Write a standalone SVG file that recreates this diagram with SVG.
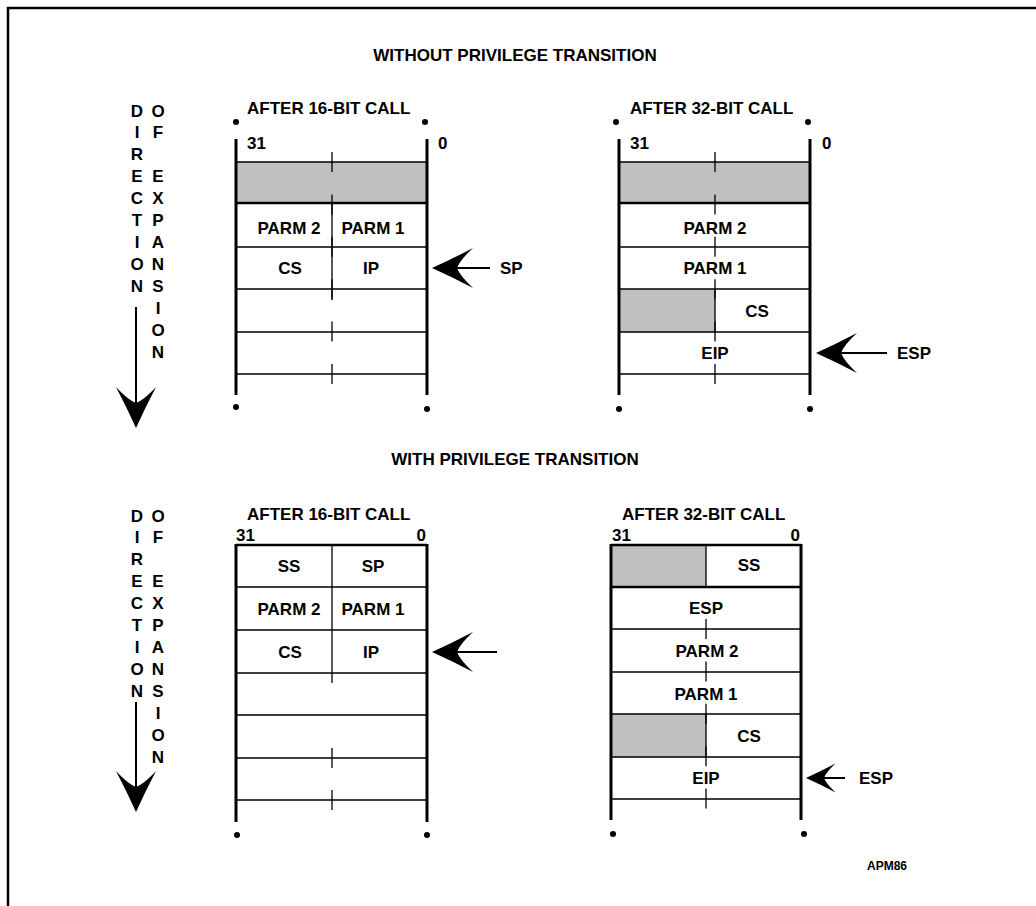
<svg xmlns="http://www.w3.org/2000/svg" xmlns:xlink="http://www.w3.org/1999/xlink" width="1036" height="906" viewBox="0 0 1036 906">
<style>
text{font-family:"Liberation Sans",Arial,Helvetica,sans-serif;font-weight:bold;fill:#000}
.t{font-size:17px}
.c{text-anchor:middle}
.e{text-anchor:end}
.sm{font-size:12px}
.v{stroke:#000;stroke-width:3;fill:none}
.h{stroke:#000;stroke-width:1.5;fill:none}
.hk{stroke:#000;stroke-width:2.5;fill:none}
.m{stroke:#000;stroke-width:1.3;fill:none}
.d{stroke:#000;stroke-width:1.3;fill:none;stroke-dasharray:20 22.4}
.g{fill:#c0c0c0;stroke:none}
.ln{stroke:#000;stroke-width:2;fill:none}
</style>
<defs>
<path id="ah" d="M0,0 Q20,-9 41,-20 Q28,-8 25,0 Q28,8 41,20 Q20,9 0,0 Z" fill="#000"/>
<circle id="dot" r="3" fill="#000"/>
</defs>
<rect width="1036" height="906" fill="#fff"/>
<path d="M8,906 V8 H1036" stroke="#000" stroke-width="2.5" fill="none"/>

<g id="titles">
<text class="t c" x="515" y="61">WITHOUT PRIVILEGE TRANSITION</text>
<text class="t c" x="515" y="465">WITH PRIVILEGE TRANSITION</text>
<text class="sm" x="867" y="870">APM86</text>
</g>

<g id="direction-top">
<text class="t c" x="137" y="117">D</text>
<text class="t c" x="137" y="138">I</text>
<text class="t c" x="137" y="160">R</text>
<text class="t c" x="137" y="182">E</text>
<text class="t c" x="137" y="204">C</text>
<text class="t c" x="137" y="226">T</text>
<text class="t c" x="137" y="248">I</text>
<text class="t c" x="137" y="270">O</text>
<text class="t c" x="137" y="292">N</text>
<text class="t c" x="158" y="117">O</text>
<text class="t c" x="158" y="138">F</text>
<text class="t c" x="158" y="182">E</text>
<text class="t c" x="158" y="204">X</text>
<text class="t c" x="158" y="226">P</text>
<text class="t c" x="158" y="248">A</text>
<text class="t c" x="158" y="270">N</text>
<text class="t c" x="158" y="292">S</text>
<text class="t c" x="158" y="314">I</text>
<text class="t c" x="158" y="336">O</text>
<text class="t c" x="158" y="358">N</text>
</g>

<g id="direction-bottom">
<text class="t c" x="137" y="522">D</text>
<text class="t c" x="137" y="543">I</text>
<text class="t c" x="137" y="565">R</text>
<text class="t c" x="137" y="587">E</text>
<text class="t c" x="137" y="609">C</text>
<text class="t c" x="137" y="631">T</text>
<text class="t c" x="137" y="653">I</text>
<text class="t c" x="137" y="675">O</text>
<text class="t c" x="137" y="697">N</text>
<text class="t c" x="158" y="522">O</text>
<text class="t c" x="158" y="543">F</text>
<text class="t c" x="158" y="587">E</text>
<text class="t c" x="158" y="609">X</text>
<text class="t c" x="158" y="631">P</text>
<text class="t c" x="158" y="653">A</text>
<text class="t c" x="158" y="675">N</text>
<text class="t c" x="158" y="697">S</text>
<text class="t c" x="158" y="719">I</text>
<text class="t c" x="158" y="741">O</text>
<text class="t c" x="158" y="763">N</text>
</g>

<g id="stack-top-16">
<text class="t" x="247" y="114">AFTER 16-BIT CALL</text>
<use xlink:href="#dot" x="236" y="122"/>
<use xlink:href="#dot" x="425" y="122"/>
<text class="t" x="247" y="149">31</text>
<text class="t" x="438" y="149">0</text>
<rect class="g" x="236" y="162" width="191" height="41"/>
<path class="h" d="M236,162H427 M236,247H427 M236,289H427 M236,332H427 M236,374H427"/>
<path class="hk" d="M236,203H427"/>
<path class="d" d="M332,152V386"/>
<path class="m" d="M332,203V300"/>
<path class="v" d="M236,139V395 M427,139V395"/>
<text class="t c" x="289" y="234">PARM 2</text>
<text class="t c" x="373" y="234">PARM 1</text>
<text class="t c" x="290" y="274">CS</text>
<text class="t c" x="371" y="274">IP</text>
<use xlink:href="#dot" x="236" y="407"/>
<use xlink:href="#dot" x="427" y="409"/>
</g>

<g id="stack-top-32">
<text class="t" x="630" y="114">AFTER 32-BIT CALL</text>
<use xlink:href="#dot" x="616" y="122"/>
<use xlink:href="#dot" x="808" y="122"/>
<text class="t" x="630" y="149">31</text>
<text class="t" x="822" y="149">0</text>
<rect class="g" x="619" y="162" width="191" height="41"/>
<rect class="g" x="619" y="289" width="96" height="43"/>
<path class="h" d="M619,162H810 M619,247H810 M619,289H810 M619,332H810 M619,374H810"/>
<path class="hk" d="M619,203H810"/>
<path class="d" d="M715,152V386"/>
<path class="m" d="M715,289V332"/>
<path class="v" d="M619,139V395 M810,139V395"/>
<text class="t c" x="715" y="234">PARM 2</text>
<text class="t c" x="715" y="274">PARM 1</text>
<text class="t c" x="757" y="317">CS</text>
<text class="t c" x="715" y="359">EIP</text>
<use xlink:href="#dot" x="619" y="409"/>
<use xlink:href="#dot" x="810" y="409"/>
</g>

<g id="stack-bottom-16">
<text class="t" x="247" y="520">AFTER 16-BIT CALL</text>
<text class="t" x="236" y="541">31</text>
<text class="t e" x="426" y="541">0</text>
<path class="h" d="M236,587H427 M236,630H427 M236,673H427 M236,715H427 M236,758H427 M236,800H427"/>
<path class="hk" d="M236,545H427"/>
<path class="m" d="M332,545V683 M332,748V768 M332,790V810"/>
<path class="v" d="M236,544V822 M427,544V822"/>
<text class="t c" x="289" y="572">SS</text>
<text class="t c" x="373" y="572">SP</text>
<text class="t c" x="289" y="615">PARM 2</text>
<text class="t c" x="373" y="615">PARM 1</text>
<text class="t c" x="290" y="658">CS</text>
<text class="t c" x="371" y="658">IP</text>
<use xlink:href="#dot" x="237" y="835"/>
<use xlink:href="#dot" x="427" y="835"/>
</g>

<g id="stack-bottom-32">
<text class="t" x="622" y="520">AFTER 32-BIT CALL</text>
<text class="t" x="612" y="541">31</text>
<text class="t e" x="800" y="541">0</text>
<rect class="g" x="611" y="545" width="95" height="42"/>
<rect class="g" x="611" y="714" width="95" height="43"/>
<path class="h" d="M611,629H801 M611,672H801 M611,714H801 M611,757H801 M611,799H801"/>
<path class="hk" d="M611,545H801 M611,587H801"/>
<path class="m" d="M706,545V587 M706,714V757"/>
<path class="d" d="M706,619V810"/>
<path class="v" d="M611,544V820 M801,544V820"/>
<text class="t c" x="749" y="571">SS</text>
<text class="t c" x="706" y="614">ESP</text>
<text class="t c" x="707" y="657">PARM 2</text>
<text class="t c" x="706" y="700">PARM 1</text>
<text class="t c" x="749" y="742">CS</text>
<text class="t c" x="706" y="784">EIP</text>
<use xlink:href="#dot" x="613" y="834"/>
<use xlink:href="#dot" x="804" y="834"/>
</g>

<g id="connectors">
<path class="ln" d="M136,307V410"/>
<use xlink:href="#ah" transform="translate(136,428) rotate(-90)"/>
<path class="ln" d="M136,702V795"/>
<use xlink:href="#ah" transform="translate(136,812) rotate(-90)"/>
<path class="ln" d="M455,268H490"/>
<use xlink:href="#ah" transform="translate(432,268)"/>
<path class="ln" d="M838,353H887"/>
<use xlink:href="#ah" transform="translate(816,353)"/>
<path class="ln" d="M455,652H497"/>
<use xlink:href="#ah" transform="translate(432,652)"/>
<path class="ln" d="M822,778H845"/>
<use xlink:href="#ah" transform="translate(806,778) scale(0.72)"/>
</g>

<g id="pointer-labels">
<text class="t" x="500" y="274">SP</text>
<text class="t" x="897" y="359">ESP</text>
<text class="t" x="859" y="784">ESP</text>
</g>
</svg>
